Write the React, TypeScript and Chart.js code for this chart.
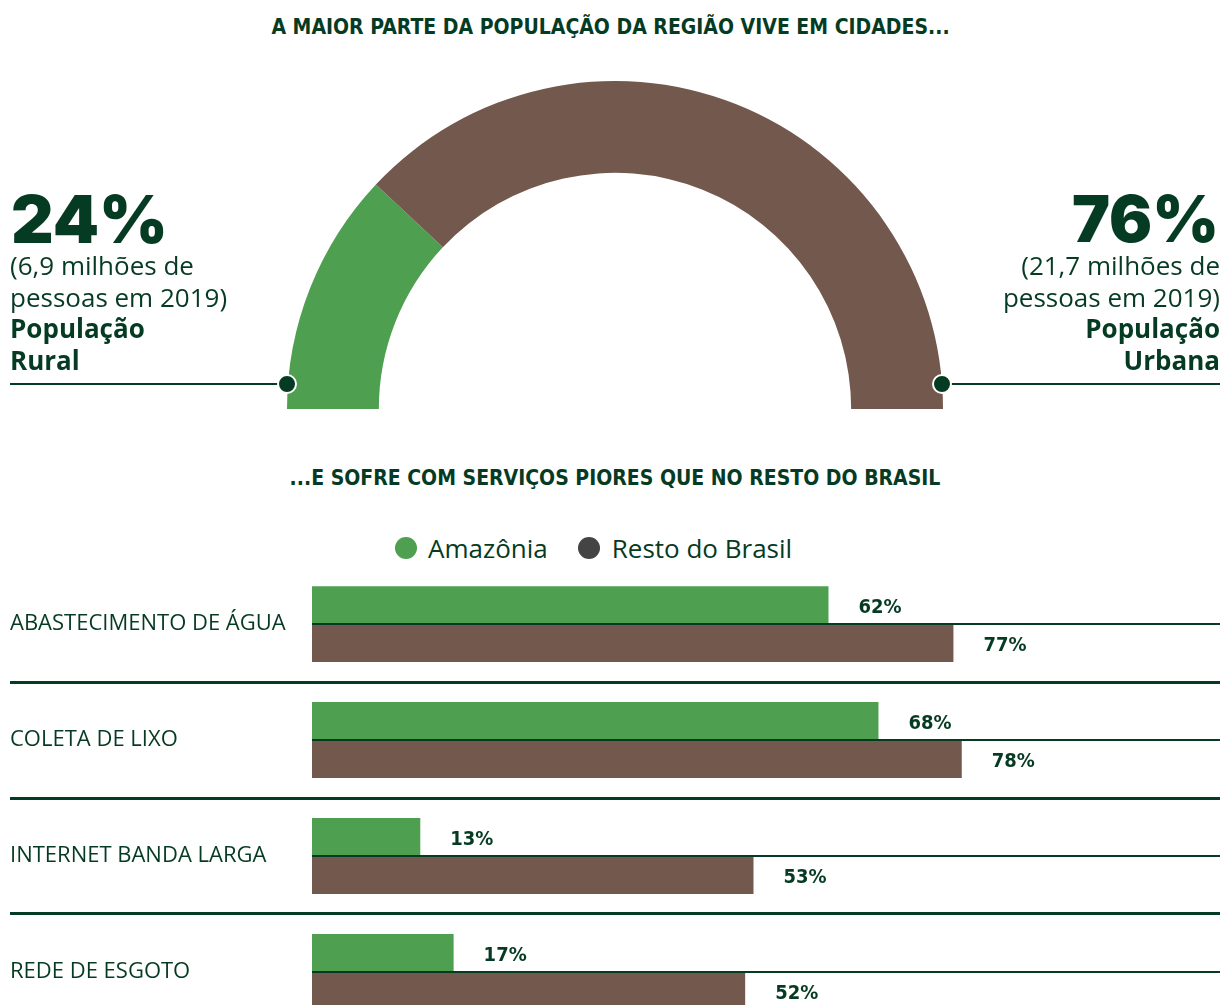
import React, { useEffect, useRef } from "react";
import { Chart, registerables } from "chart.js";

Chart.register(...registerables);

const GREEN = "#4E9F50";
const BROWN = "#72584D";
const DARK = "#063B23";
const LEGEND_GRAY = "#444444";

const BODY_FONT = '"Open Sans", "Noto Sans", sans-serif';
const COND_FONT = '"DejaVu Sans Condensed", "DejaVu Sans", sans-serif';
const HEAVY_FONT = 'Inter, "Noto Sans", sans-serif';

// Top: urban vs rural population
const popLabels = ["População Rural", "População Urbana"];
const popValues = [24, 76];
const popMillions = ["6,9", "21,7"];

// Bottom: services
const categories = ["ABASTECIMENTO DE ÁGUA", "COLETA DE LIXO", "INTERNET BANDA LARGA", "REDE DE ESGOTO"];
const amazonia = [62, 68, 13, 17];
const restoBrasil = [77, 78, 53, 52];
const seriesNames = ["Amazônia", "Resto do Brasil"];

const titleTop = "A MAIOR PARTE DA POPULAÇÃO DA REGIÃO VIVE EM CIDADES...";
const titleBottom = "...E SOFRE COM SERVIÇOS PIORES QUE NO RESTO DO BRASIL";

const centerLinePlugin = {
  id: "centerLines",
  afterDatasetsDraw(chart: any) {
    const { ctx, chartArea } = chart;
    const yScale = chart.scales.y;
    ctx.save();
    ctx.strokeStyle = DARK;
    ctx.lineWidth = 2;
    categories.forEach((_, i) => {
      const y = Math.round(yScale.getPixelForValue(i));
      ctx.beginPath();
      ctx.moveTo(chartArea.left, y);
      ctx.lineTo(chartArea.right, y);
      ctx.stroke();
    });
    ctx.restore();
  },
};

const valueLabelPlugin = {
  id: "valueLabels",
  afterDatasetsDraw(chart: any) {
    const { ctx } = chart;
    ctx.save();
    ctx.font = `bold 20px ${COND_FONT}`;
    ctx.fillStyle = DARK;
    ctx.textAlign = "left";
    ctx.textBaseline = "middle";
    chart.data.datasets.forEach((ds: any, di: number) => {
      const meta = chart.getDatasetMeta(di);
      meta.data.forEach((el: any, i: number) => {
        const { x, y } = el.getProps(["x", "y"], true);
        ctx.fillText(ds.data[i] + "%", x + 30, y + 3);
      });
    });
    ctx.restore();
  },
};

export default function App() {
  const donutRef = useRef<HTMLCanvasElement>(null);
  const barRef = useRef<HTMLCanvasElement>(null);

  useEffect(() => {
    const donut = new Chart(donutRef.current as HTMLCanvasElement, {
      type: "doughnut",
      data: {
        labels: popLabels,
        datasets: [
          {
            data: popValues,
            backgroundColor: [GREEN, BROWN],
            borderWidth: 0,
          },
        ],
      },
      options: {
        responsive: false,
        animation: false,
        rotation: -90,
        circumference: 180,
        cutout: "72%",
        layout: { padding: 0 },
        plugins: { legend: { display: false }, tooltip: { enabled: false } },
      },
    } as any);

    const bar = new Chart(barRef.current as HTMLCanvasElement, {
      type: "bar",
      data: {
        labels: categories,
        datasets: [
          { label: seriesNames[0], data: amazonia, backgroundColor: GREEN, categoryPercentage: 76 / 116, barPercentage: 1 },
          { label: seriesNames[1], data: restoBrasil, backgroundColor: BROWN, categoryPercentage: 76 / 116, barPercentage: 1 },
        ],
      },
      options: {
        indexAxis: "y",
        responsive: false,
        animation: false,
        layout: { padding: { left: 10, right: 4, top: 0, bottom: 6 } },
        scales: {
          x: { display: false, min: 0, max: 109 },
          y: {
            afterFit: (s: any) => {
              s.width = 302;
            },
            border: { display: false },
            grid: {
              offset: true,
              color: (c: any) => (c.index === 0 ? "rgba(0,0,0,0)" : DARK),
              lineWidth: 3,
              drawTicks: true,
              tickLength: 302,
            },
            ticks: {
              crossAlign: "far",
              padding: 0,
              color: DARK,
              font: { family: BODY_FONT, size: 22, weight: 500 },
            },
          },
        },
        plugins: { legend: { display: false }, tooltip: { enabled: false } },
      },
      plugins: [centerLinePlugin, valueLabelPlugin],
    } as any);

    return () => {
      donut.destroy();
      bar.destroy();
    };
  }, []);

  const abs = (s: React.CSSProperties): React.CSSProperties => ({ position: "absolute", ...s });
  const annText: React.CSSProperties = { fontFamily: BODY_FONT, fontSize: 26, fontWeight: 500, lineHeight: "31.5px", color: DARK };

  return (
    <div style={abs({ left: 0, top: 0, width: 1224, height: 1005, overflow: "hidden", background: "#fff" })}>
      <div style={abs({ left: 0, top: 12, width: 1221, textAlign: "center", fontFamily: COND_FONT, fontWeight: 700, fontSize: 21, color: DARK, lineHeight: "30px" })}>
        {titleTop}
      </div>

      <canvas ref={donutRef} width={656} height={328} style={abs({ left: 287, top: 81, width: 656, height: 328 })} />

      {/* Left annotation */}
      <div style={abs({ left: 11, top: 181, fontFamily: HEAVY_FONT, fontWeight: 900, fontSize: 66, lineHeight: "76px", color: DARK })}>
        {popValues[0]}%
      </div>
      <div style={abs({ left: 10, top: 250, ...annText, textAlign: "left" })}>
        ({popMillions[0]} milhões de
        <br />
        pessoas em 2019)
        <br />
        <b>População</b>
        <br />
        <b>Rural</b>
      </div>
      <div style={abs({ left: 10, top: 383, width: 278, height: 2, background: DARK })} />
      <div style={abs({ left: 277, top: 374, width: 16, height: 16, borderRadius: 10, background: DARK, border: "2px solid #fff" })} />

      {/* Right annotation */}
      <div style={abs({ right: 5, top: 181, fontFamily: HEAVY_FONT, fontWeight: 900, fontSize: 64, lineHeight: "76px", color: DARK, textAlign: "right" })}>
        {popValues[1]}%
      </div>
      <div style={abs({ right: 4, top: 250, ...annText, textAlign: "right" })}>
        ({popMillions[1]} milhões de
        <br />
        pessoas em 2019)
        <br />
        <b>População</b>
        <br />
        <b>Urbana</b>
      </div>
      <div style={abs({ left: 942, top: 383, width: 278, height: 2, background: DARK })} />
      <div style={abs({ left: 932, top: 374, width: 16, height: 16, borderRadius: 10, background: DARK, border: "2px solid #fff" })} />

      <div style={abs({ left: 0, top: 463, width: 1230, textAlign: "center", fontFamily: COND_FONT, fontWeight: 700, fontSize: 21, color: DARK, lineHeight: "30px" })}>
        {titleBottom}
      </div>

      {/* Legend */}
      <div style={abs({ left: 395, top: 531, height: 34, display: "flex", alignItems: "center", fontFamily: BODY_FONT, fontSize: 26, fontWeight: 500, color: DARK })}>
        <span style={{ width: 22, height: 22, borderRadius: 11, background: GREEN, display: "inline-block", marginRight: 11 }} />
        <span>{seriesNames[0]}</span>
        <span style={{ width: 22, height: 22, borderRadius: 11, background: LEGEND_GRAY, display: "inline-block", marginLeft: 30, marginRight: 12 }} />
        <span>{seriesNames[1]}</span>
      </div>

      <canvas ref={barRef} width={1224} height={490} style={abs({ left: 0, top: 553, width: 1224, height: 490 })} />
    </div>
  );
}
